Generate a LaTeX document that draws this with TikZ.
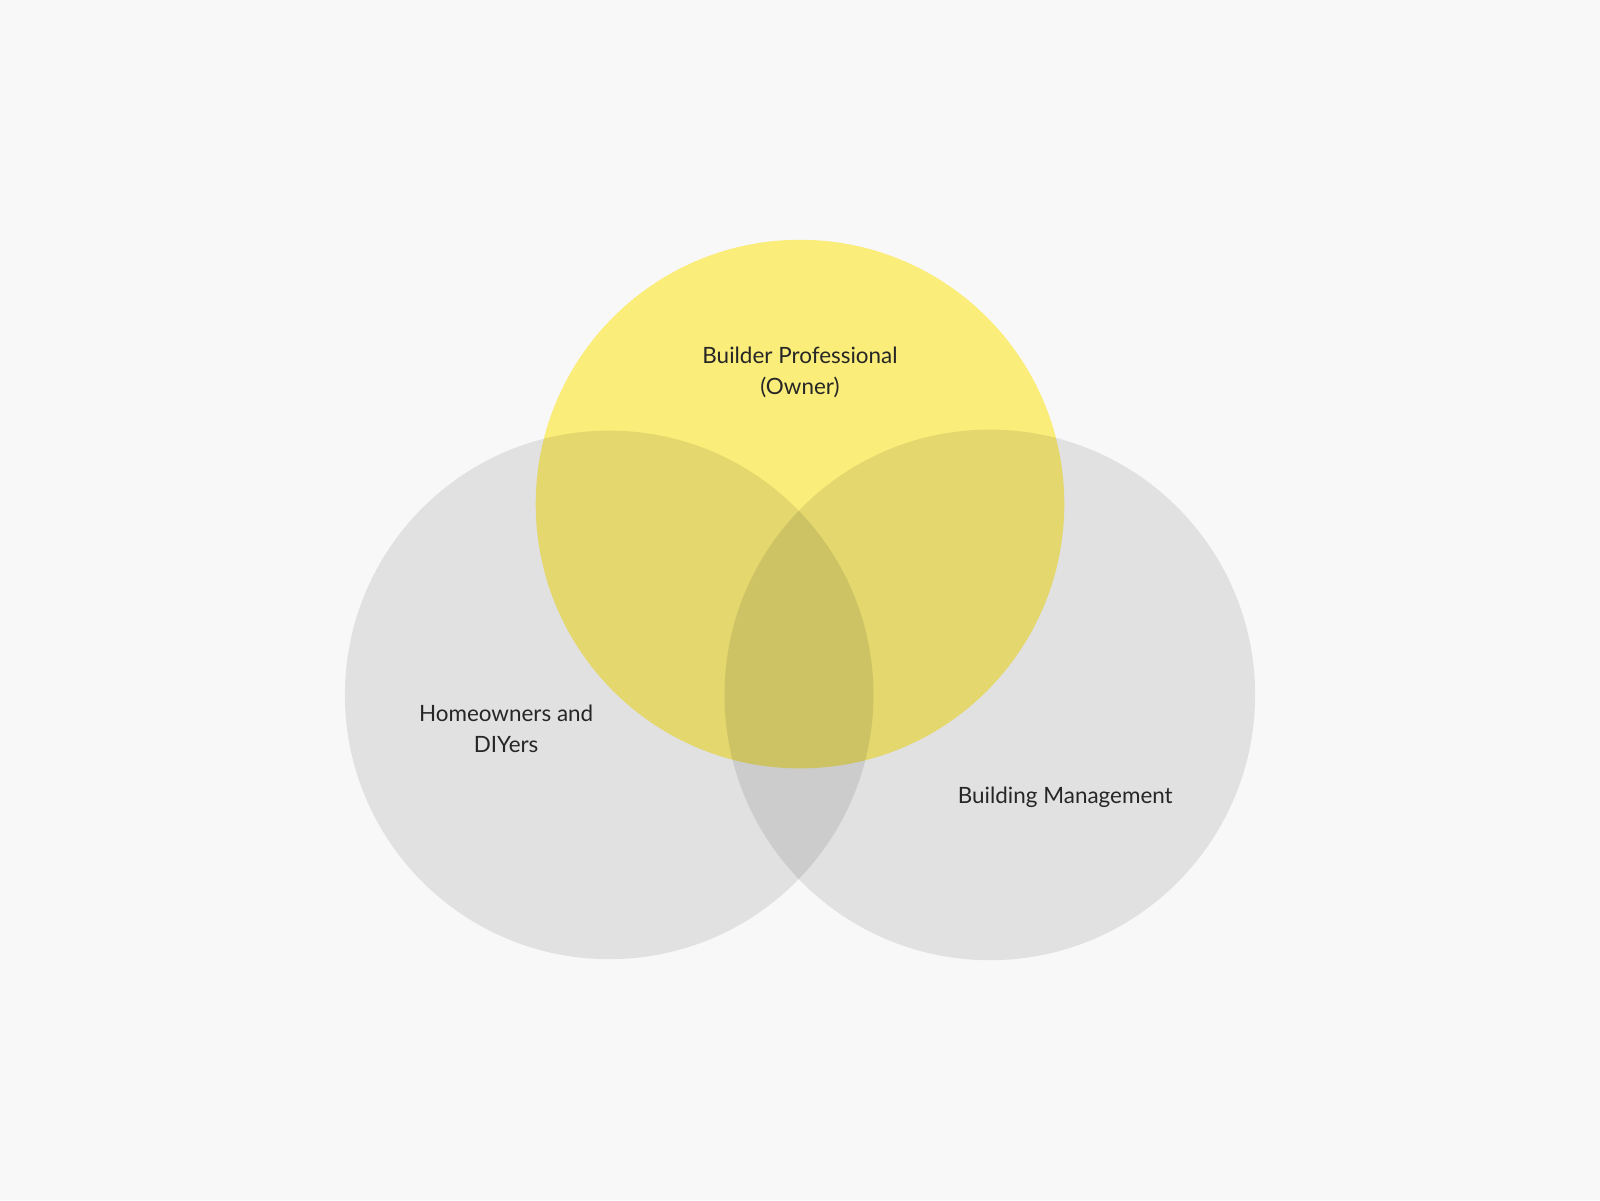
\documentclass[tikz,border=0pt]{standalone}
\usepackage{fontspec}
\setmainfont{Lato}
\definecolor{bgcol}{HTML}{F8F8F8}
\definecolor{owneryellow}{HTML}{FAED7A}
\tikzset{setgray/.style={fill=black,fill opacity=0.09,draw=none}}
\tikzset{setlabel/.style={align=center,font=\fontsize{22}{30}\selectfont,text=black!85}}
\begin{document}
\begin{tikzpicture}[x=1pt,y=-1pt]
  \fill[bgcol] (0,0) rectangle (1568,1176);
  \useasboundingbox (0,0) rectangle (1568,1176);
  \coordinate (owner) at (784,494);
  \coordinate (home) at (597,681);
  \coordinate (mgmt) at (970,681);

  \fill[owneryellow] (owner) circle (259);
  \fill[setgray] (home) circle (259);
  \fill[setgray] (mgmt) circle (260);

  \node[setlabel] (ownerlabel) at (784,365) {Builder Professional\\(Owner)};
  \node[setlabel] (homelabel) at (496,714) {Homeowners and\\DIYers};
  \node[setlabel] (mgmtlabel) at (1044,781) {Building Management};
\end{tikzpicture}
\end{document}
